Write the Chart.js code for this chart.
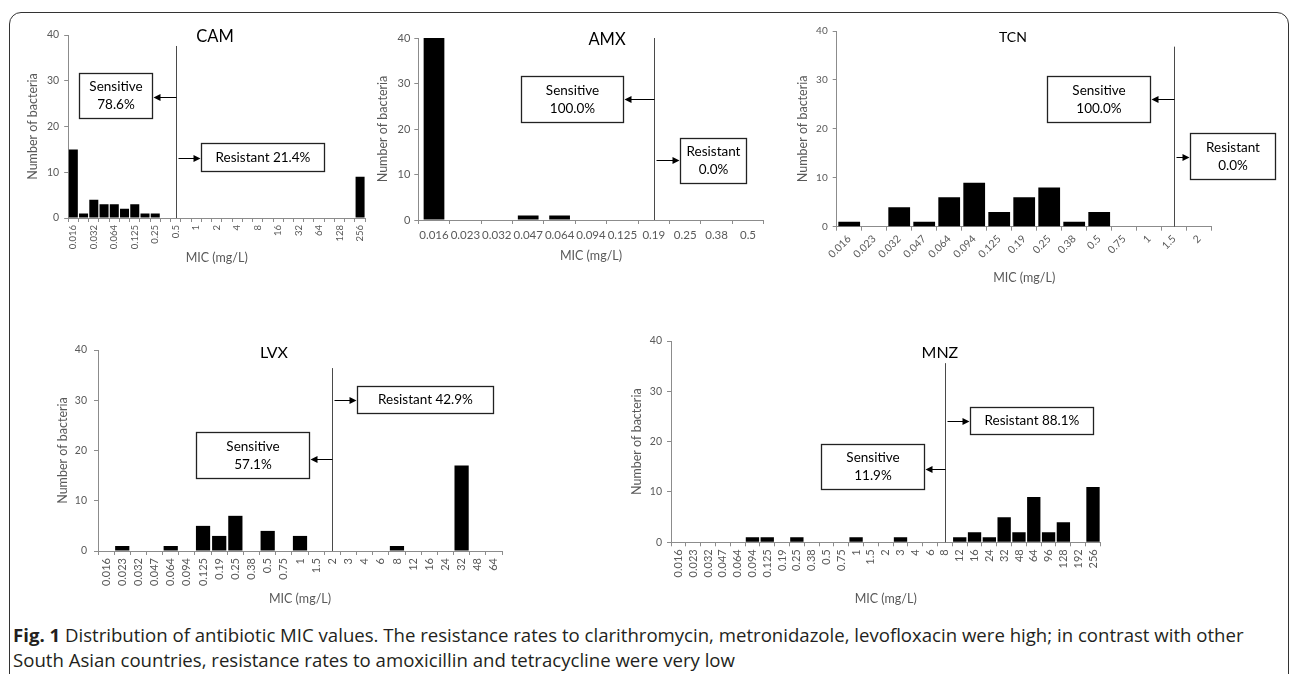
<!DOCTYPE html>
<html>
<head>
<meta charset="utf-8">
<script src="https://cdn.jsdelivr.net/npm/chart.js@4.4.1/dist/chart.umd.min.js"></script>
<style>
html,body{margin:0;padding:0;background:#fff;width:1290px;height:674px;overflow:hidden;position:relative}
canvas{position:absolute}
#frame{position:absolute;left:9px;top:12px;width:1280px;height:720px;border:1.5px solid #333;border-radius:12px;box-sizing:border-box}
#caption{position:absolute;left:13px;top:622px;font:18.6px/25px "Open Sans",sans-serif;color:#231f20;white-space:nowrap}
#caption b{font-weight:700}
</style>
</head>
<body>
<div id="frame"></div>
<div id="caption"><b>Fig. 1</b> Distribution of antibiotic MIC values. The resistance rates to clarithromycin, metronidazole, levofloxacin were high; in contrast with other<br>South Asian countries, resistance rates to amoxicillin and tetracycline were very low</div>
<script>
// MIC categories (mg/L) and number of strains per category

const camLabels = ['0.016','0.023','0.032','0.047','0.064','0.094','0.125','0.19','0.25','0.38','0.5','0.75','1','1.5','2','3','4','6','8','12','16','24','32','48','64','96','128','192','256'];
const camCounts = [15,1,4,3,3,2,3,1,1,0,0,0,0,0,0,0,0,0,0,0,0,0,0,0,0,0,0,0,9];

const amxLabels = ['0.016','0.023','0.032','0.047','0.064','0.094','0.125','0.19','0.25','0.38','0.5'];
const amxCounts = [40,0,0,1,1,0,0,0,0,0,0];

const tcnLabels = ['0.016','0.023','0.032','0.047','0.064','0.094','0.125','0.19','0.25','0.38','0.5','0.75','1','1.5','2'];
const tcnCounts = [1,0,4,1,6,9,3,6,8,1,3,0,0,0,0];

const lvxLabels = ['0.016','0.023','0.032','0.047','0.064','0.094','0.125','0.19','0.25','0.38','0.5','0.75','1','1.5','2','3','4','6','8','12','16','24','32','48','64'];
const lvxCounts = [0,1,0,0,1,0,5,3,7,0,4,0,3,0,0,0,0,0,1,0,0,0,17,0,0];

const mnzLabels = ['0.016','0.023','0.032','0.047','0.064','0.094','0.125','0.19','0.25','0.38','0.5','0.75','1','1.5','2','3','4','6','8','12','16','24','32','48','64','96','128','192','256'];
const mnzCounts = [0,0,0,0,0,1,1,0,1,0,0,0,1,0,0,1,0,0,0,1,2,1,5,2,9,2,4,0,11];

const panelNames = ['CAM','AMX','TCN','LVX','MNZ'];
const breakpoints = ['0.5','0.19','1.5','2','8'];
const sensitivePct = ['78.6%','100.0%','100.0%','57.1%','11.9%'];
const resistantPct = ['21.4%','0.0%','0.0%','42.9%','88.1%'];
const yTicks = [0,10,20,30,40];

const textGray = '#595959';
const axisGray = '#8c8c8c';
Chart.defaults.font.family = 'Lato, sans-serif';

// layout of each panel (page pixels) and annotation placement (category index / count units)
const panels = [
  {labels:camLabels, counts:camCounts, plot:[68.2,35,365.2,218], top:15, right:378, yTitleX:33, xTitleY:257,
   axisFont:12.5, xFont:9.5, yFont:10.5, rot:90, skip:true, xPad:3, yPad:5, bar:0.88, titleSize:16.5, boxSize:13.5,
   titleAt:[13.84,39.6], lineTop:37.6, sens:[0.55,7.68,31.7,21.9,26.5], res:[12.47,24.48,16.4,10.3,13.1], resOneLine:true},
  {labels:amxLabels, counts:amxCounts, plot:[418.3,38,763.7,220], top:20, right:775, yTitleX:383, xTitleY:255,
   axisFont:12.5, xFont:11.5, yFont:11, rot:0, skip:false, xPad:4, yPad:4, bar:0.66, titleSize:16.5, boxSize:13.5,
   titleAt:[5.51,39.6], lineTop:40, sens:[2.76,6.03,31.6,21.6,26.6], res:[7.83,9.93,18.1,8.07,13.2], resOneLine:false},
  {labels:tcnLabels, counts:tcnCounts, plot:[836.7,31,1211.7,226.7], top:15, right:1282, yTitleX:803, xTitleY:277,
   axisFont:12.5, xFont:10.5, yFont:10, rot:45, skip:false, xPad:2, yPad:5, bar:0.87, titleSize:14, boxSize:13.5,
   titleAt:[6.55,38.6], lineTop:36.8, sens:[7.91,12.03,30.8,21.4,26.1], res:[13.63,17.03,19.15,9.75,14.3], resOneLine:false},
  {labels:lvxLabels, counts:lvxCounts, plot:[98,350,502,551], top:335, right:512, yTitleX:63, xTitleY:598,
   axisFont:12.5, xFont:11, yFont:10.5, rot:90, skip:false, xPad:3, yPad:7, bar:0.88, titleSize:16, boxSize:13.5,
   titleAt:[10.39,39.4], lineTop:36.4, sens:[5.56,12.56,23.7,14.5,18.3], res:[15.53,23.94,32.8,27.5,30.0], resOneLine:true},
  {labels:mnzLabels, counts:mnzCounts, plot:[671,341,1100.4,542.3], top:326, right:1110, yTitleX:637, xTitleY:598,
   axisFont:12.5, xFont:11, yFont:10.5, rot:90, skip:false, xPad:3, yPad:5, bar:0.9, titleSize:16, boxSize:13.5,
   titleAt:[17.66,37.6], lineTop:35.6, sens:[9.63,16.58,19.5,10.6,14.6], res:[19.69,27.99,26.9,21.5,24.1], resOneLine:true}
];

function drawBox(ctx, X, Y, b, lines, lx, dir, size){
  const x1 = Math.round(X(b[0])) + 0.5, x2 = Math.round(X(b[1])) + 0.5;
  const y1 = Math.round(Y(b[2])) + 0.5, y2 = Math.round(Y(b[3])) + 0.5;
  ctx.fillStyle = '#fff';
  ctx.fillRect(x1, y1, x2 - x1, y2 - y1);
  ctx.strokeStyle = '#222';
  ctx.lineWidth = 1.3;
  ctx.strokeRect(x1, y1, x2 - x1, y2 - y1);
  ctx.fillStyle = '#000';
  ctx.font = size + 'px Lato';
  ctx.textAlign = 'center';
  ctx.textBaseline = 'middle';
  const cx = (x1 + x2) / 2, cy = (y1 + y2) / 2, lh = size * 1.35;
  lines.forEach((t, k) => ctx.fillText(t, cx, cy + (k - (lines.length - 1) / 2) * lh));
  // arrow from breakpoint line to the box
  const ay = Math.round(Y(b[4])) + 0.5;
  const tip = dir < 0 ? x2 + 1 : x1 - 1;
  const start = dir < 0 ? lx : lx + 2;
  ctx.strokeStyle = '#000';
  ctx.lineWidth = 1;
  ctx.beginPath();
  ctx.moveTo(start, ay);
  ctx.lineTo(tip - dir * 6, ay);
  ctx.stroke();
  ctx.beginPath();
  ctx.moveTo(tip, ay);
  ctx.lineTo(tip - dir * 7, ay - 3.5);
  ctx.lineTo(tip - dir * 7, ay + 3.5);
  ctx.closePath();
  ctx.fill();
}

const micPlugin = {
  id:'mic',
  afterDatasetsDraw(chart, args, o){
    const {ctx} = chart;
    const x = chart.scales.x, y = chart.scales.y;
    const X = v => x.getPixelForValue(v);
    const Y = v => y.getPixelForValue(v);
    ctx.save();
    ctx.fillStyle = '#000';
    ctx.textAlign = 'center';
    ctx.textBaseline = 'middle';
    ctx.font = o.titleSize + 'px Lato';
    ctx.fillText(o.name, X(o.titleAt[0]), Y(o.titleAt[1]));
    // breakpoint line
    const lx = Math.round(X(chart.data.labels.indexOf(o.breakpoint))) + 0.5;
    ctx.strokeStyle = '#4a4a4a';
    ctx.lineWidth = 1;
    ctx.beginPath();
    ctx.moveTo(lx, Y(o.lineTop));
    ctx.lineTo(lx, y.bottom);
    ctx.stroke();
    drawBox(ctx, X, Y, o.sens, ['Sensitive', o.sensPct], lx, -1, o.boxSize);
    drawBox(ctx, X, Y, o.res, o.resOneLine ? ['Resistant ' + o.resPct] : ['Resistant', o.resPct], lx, 1, o.boxSize);
    ctx.restore();
  }
};

panels.forEach((p, i) => {
  const [L, T, R, B] = p.plot;
  const left = Math.floor(p.yTitleX - 0.6 * p.axisFont);
  const bottom = Math.round(p.xTitleY + 0.6 * p.axisFont);
  const canvas = document.createElement('canvas');
  canvas.width = p.right - left;
  canvas.height = bottom - p.top;
  canvas.style.left = left + 'px';
  canvas.style.top = p.top + 'px';
  document.body.appendChild(canvas);

  new Chart(canvas, {
    type:'bar',
    data:{
      labels:p.labels,
      datasets:[{
        data:p.counts,
        backgroundColor:'#000',
        barPercentage:p.bar,
        categoryPercentage:1
      }]
    },
    options:{
      responsive:false,
      animation:false,
      layout:{padding:{top:T - p.top, right:p.right - R, left:0, bottom:0}},
      plugins:{
        legend:{display:false},
        tooltip:{enabled:false},
        mic:{
          name:panelNames[i], breakpoint:breakpoints[i], sensPct:sensitivePct[i], resPct:resistantPct[i],
          titleSize:p.titleSize, boxSize:p.boxSize, titleAt:p.titleAt, lineTop:p.lineTop,
          sens:p.sens, res:p.res, resOneLine:p.resOneLine
        }
      },
      scales:{
        x:{
          grid:{drawOnChartArea:false, tickLength:4, color:axisGray},
          border:{color:axisGray},
          ticks:{
            autoSkip:false, minRotation:p.rot, maxRotation:p.rot, padding:p.xPad,
            color:textGray, font:{size:p.xFont},
            callback(v, idx){ return (p.skip && idx % 2) ? '' : this.getLabelForValue(v); }
          },
          title:{display:true, text:'MIC (mg/L)', color:textGray, font:{size:p.axisFont}, padding:0},
          afterFit(s){ s.height = bottom - B; }
        },
        y:{
          min:yTicks[0], max:yTicks[yTicks.length - 1],
          ticks:{stepSize:yTicks[1] - yTicks[0], padding:p.yPad, color:textGray, font:{size:p.yFont}},
          grid:{drawOnChartArea:false, tickLength:4, color:axisGray},
          border:{color:axisGray},
          title:{display:true, text:'Number of bacteria', color:textGray, font:{size:p.axisFont}, padding:0},
          afterFit(s){ s.width = L - left; }
        }
      }
    },
    plugins:[micPlugin]
  });
});
</script>
</body>
</html>
